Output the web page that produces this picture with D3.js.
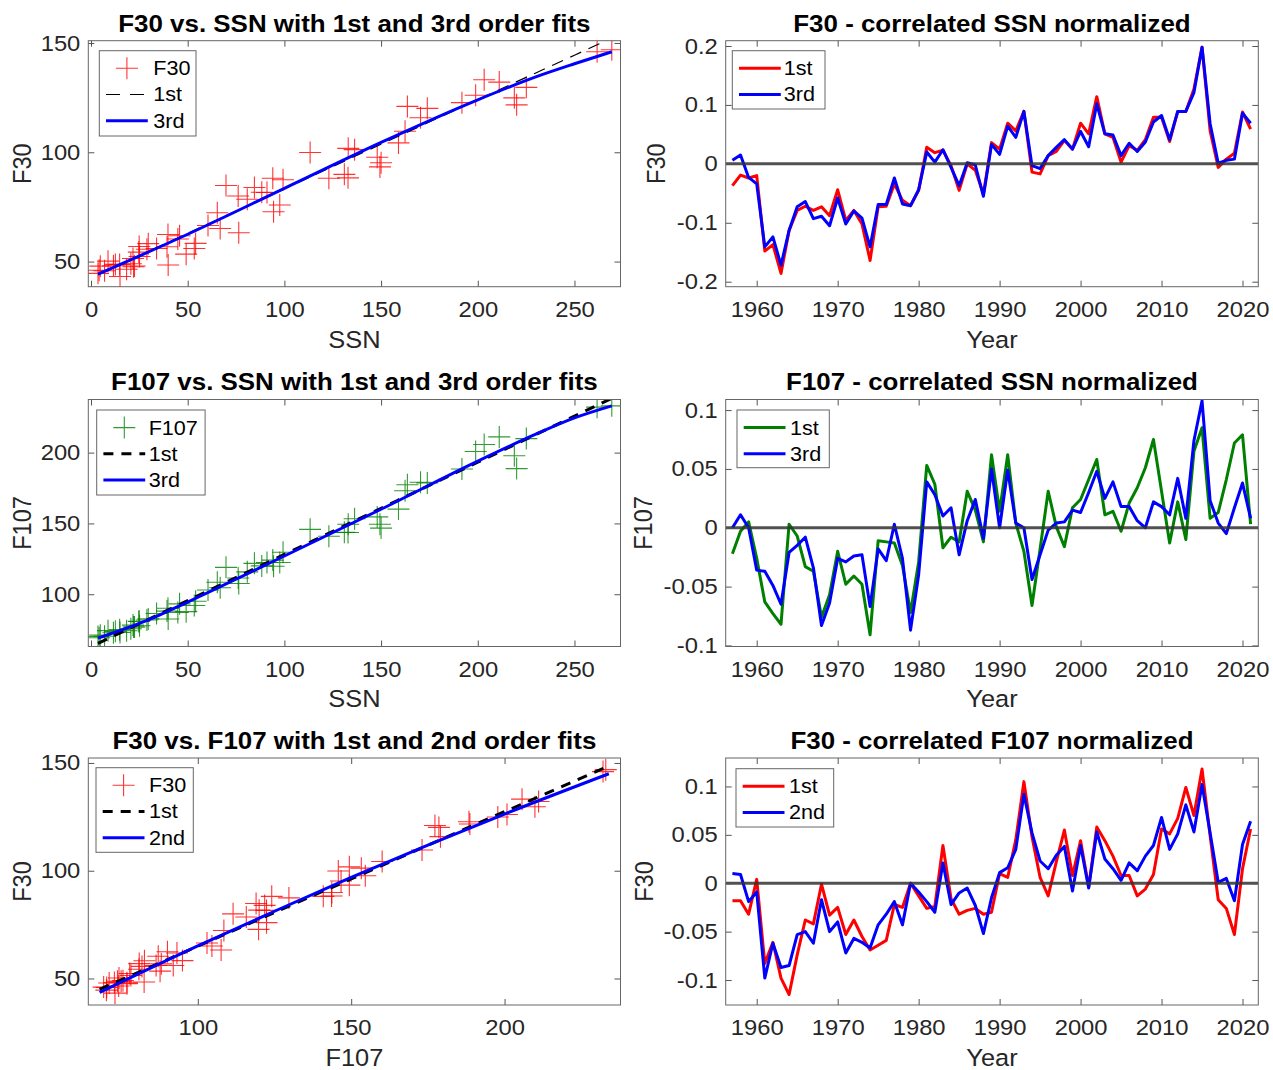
<!DOCTYPE html>
<html>
<head>
<meta charset="utf-8">
<script src="https://cdn.jsdelivr.net/npm/d3@7/dist/d3.min.js"></script>
<style>
  body { margin: 0; background: #fff; }
  svg text { font-family: "Liberation Sans", Arial, Helvetica, sans-serif; }
</style>
</head>
<body>
<script>
// yearly values, 1957 - 2021
const years = [1957,1958,1959,1960,1961,1962,1963,1964,1965,1966,
  1967,1968,1969,1970,1971,1972,1973,1974,1975,1976,
  1977,1978,1979,1980,1981,1982,1983,1984,1985,1986,
  1987,1988,1989,1990,1991,1992,1993,1994,1995,1996,
  1997,1998,1999,2000,2001,2002,2003,2004,2005,2006,
  2007,2008,2009,2010,2011,2012,2013,2014,2015,2016,
  2017,2018,2019,2020,2021];

const ssn = [269.3,261.7,225.1,159.0,76.4,53.4,39.9,15.0,22.0,66.8,
  132.9,150.0,149.4,148.0,94.4,97.6,54.1,49.2,22.5,18.4,
  39.3,131.0,220.1,218.9,198.9,162.4,91.0,60.5,20.6,14.8,
  33.9,123.0,211.1,191.8,203.3,133.0,76.1,44.9,25.1,11.6,
  28.9,88.3,136.3,173.9,170.4,163.6,99.3,65.3,45.8,24.7,
  12.6,4.2,4.8,24.9,80.8,84.5,94.0,113.3,69.8,39.8,
  21.7,7.0,3.6,8.8,29.6];

const f30 = [146.9,146.0,129.7,104.3,63.2,56.0,48.4,43.2,47.6,65.1,
  88.3,95.2,93.3,97.7,72.8,75.9,58.3,53.4,48.0,46.5,
  56.8,89.9,121.7,124.9,126.1,109.6,81.6,66.5,49.0,48.7,
  56.0,88.1,132.1,122.7,133.2,101.8,80.0,60.3,52.3,48.1,
  55.6,81.7,101.2,120.1,115.8,121.0,87.4,72.3,61.8,54.3,
  48.7,46.0,47.9,56.9,78.5,83.9,88.1,99.9,84.8,62.4,
  51.4,45.8,44.6,50.2,58.2];

const f107 = [233.0,232.1,209.9,160.1,107.6,92.0,82.5,73.0,76.9,104.6,
  143.6,146.7,149.4,154.6,119.8,122.4,95.0,87.7,76.9,74.2,
  88.1,143.7,188.7,197.8,200.8,173.1,122.4,103.0,75.6,75.0,
  86.4,140.9,211.1,188.4,205.7,149.4,111.5,87.1,77.8,72.8,
  81.8,120.0,153.3,178.6,179.1,177.3,129.7,108.5,93.2,80.8,
  73.8,69.3,71.1,80.9,115.8,121.8,124.1,145.8,119.0,90.1,
  78.2,70.3,70.2,74.3,82.6];

// normalized residuals
const resF30Ssn1 = [-0.037,-0.019,-0.024,-0.020,-0.148,-0.137,-0.186,-0.113,-0.079,-0.072,
  -0.079,-0.073,-0.088,-0.044,-0.096,-0.079,-0.102,-0.164,-0.073,-0.072,
  -0.034,-0.062,-0.071,-0.045,0.028,0.019,0.023,-0.003,-0.045,0.000,
  -0.011,-0.051,0.036,0.025,0.069,0.056,0.089,-0.014,-0.017,0.014,
  0.021,0.040,0.025,0.069,0.051,0.114,0.051,0.045,0.003,0.031,
  0.023,0.041,0.079,0.079,0.038,0.089,0.089,0.127,0.198,0.056,
  -0.006,0.008,0.018,0.088,0.059];
const resF30Ssn3 = [0.006,0.015,-0.023,-0.034,-0.141,-0.124,-0.172,-0.113,-0.073,-0.064,
  -0.093,-0.089,-0.105,-0.058,-0.102,-0.080,-0.092,-0.141,-0.069,-0.069,
  -0.024,-0.068,-0.071,-0.044,0.020,0.003,0.024,-0.006,-0.037,0.002,
  -0.002,-0.055,0.033,0.016,0.064,0.045,0.089,-0.003,-0.008,0.014,
  0.028,0.041,0.025,0.055,0.029,0.102,0.051,0.049,0.014,0.035,
  0.021,0.037,0.071,0.082,0.041,0.089,0.089,0.121,0.198,0.068,
  0.001,0.006,0.008,0.086,0.069];
const resF107Ssn1 = [-0.022,-0.003,0.005,-0.026,-0.063,-0.073,-0.082,0.003,-0.007,-0.033,
  -0.037,-0.076,-0.057,-0.020,-0.048,-0.041,-0.048,-0.091,-0.011,-0.012,
  -0.013,-0.032,-0.072,-0.029,0.053,0.037,-0.017,-0.008,-0.012,0.031,
  0.015,-0.012,0.062,0.014,0.062,0.004,-0.020,-0.066,-0.018,0.031,
  0.001,-0.016,0.017,0.024,0.041,0.058,0.011,0.014,-0.003,0.021,
  0.034,0.051,0.075,0.031,-0.013,0.022,-0.010,0.065,0.085,0.008,
  0.013,0.041,0.072,0.079,0.003];
const resF107Ssn3 = [0.000,0.011,0.000,-0.036,-0.037,-0.049,-0.065,-0.021,-0.015,-0.008,
  -0.034,-0.083,-0.064,-0.026,-0.029,-0.024,-0.023,-0.067,-0.018,-0.028,
  0.003,-0.026,-0.087,-0.040,0.039,0.028,0.010,0.017,-0.023,0.006,
  0.024,-0.009,0.050,0.000,0.049,0.004,0.000,-0.044,-0.023,-0.002,
  0.004,0.005,0.015,0.013,0.030,0.048,0.025,0.039,0.018,0.018,
  0.006,0.000,0.022,0.018,0.011,0.042,0.008,0.074,0.108,0.023,
  0.004,-0.005,0.017,0.038,0.008];
const resF30F107_1 = [-0.018,-0.018,-0.032,0.004,-0.083,-0.061,-0.098,-0.115,-0.074,-0.038,
  -0.042,-0.001,-0.033,-0.025,-0.053,-0.038,-0.055,-0.069,-0.064,-0.059,
  -0.022,-0.025,0.000,-0.013,-0.026,-0.024,0.039,-0.016,-0.032,-0.028,
  -0.026,-0.032,-0.030,0.010,0.006,0.045,0.105,0.048,0.006,-0.013,
  0.022,0.055,0.008,0.044,-0.004,0.058,0.044,0.028,0.008,0.008,
  -0.013,-0.006,0.009,0.056,0.051,0.067,0.099,0.070,0.118,0.049,
  -0.017,-0.026,-0.053,0.015,0.056];
const resF30F107_2 = [0.010,0.009,-0.019,-0.009,-0.098,-0.062,-0.087,-0.085,-0.053,-0.050,
  -0.062,-0.017,-0.050,-0.040,-0.072,-0.057,-0.061,-0.067,-0.043,-0.032,
  -0.019,-0.043,0.000,-0.009,-0.019,-0.030,0.021,-0.022,-0.010,-0.005,
  -0.023,-0.052,-0.015,0.011,0.016,0.035,0.092,0.052,0.023,0.015,
  0.029,0.038,-0.008,0.039,-0.005,0.053,0.025,0.015,0.003,0.021,
  0.013,0.028,0.039,0.068,0.035,0.051,0.081,0.053,0.102,0.052,
  0.001,0.005,-0.018,0.040,0.064];

// fit curves
const fitSsnF30 = [3.6, 50, 100, 150, 200, 230, 250, 269.3];
const f30FitSsn1 = [44.0, 62.9, 83.3, 103.7, 124.1, 136.3, 144.4, 152.3];
const f30FitSsn3 = [44.2, 62.5, 83.5, 104.5, 124.0, 134.5, 140.5, 146.0];
const fitSsnF107 = [3.6, 30, 50, 100, 150, 200, 230, 250, 269.3];
const f107FitSsn1 = [65.3, 82.5, 95.5, 128.1, 160.7, 193.2, 212.7, 225.8, 238.3];
const f107FitSsn3 = [69.0, 82.0, 94.5, 127.0, 160.0, 194.0, 213.0, 224.5, 233.0];
const fitF107 = [68, 100, 125, 150, 175, 200, 234];
const f30FitF107_1 = [45.0, 65.0, 80.6, 96.2, 111.8, 127.4, 148.6];
const f30FitF107_2 = [43.5, 65.1, 81.2, 96.9, 111.9, 126.3, 145.0];

// tick values
const ssnTicks = [0, 50, 100, 150, 200, 250];
const f30Ticks = [50, 100, 150];
const f107Ticks = [100, 150, 200];
const yearTicks = [1960, 1970, 1980, 1990, 2000, 2010, 2020];
const resTicksA = [-0.2, -0.1, 0, 0.1, 0.2];
const resTicksB = [-0.1, -0.05, 0, 0.05, 0.1];

const w = 1273, h = 1070;
const SX = 1.08;           // text in the picture is a bit wide
const tickFont = 22, labelFont = 23.5, titleFont = 24, legendFont = 20;
const LEFT = [88.3, 620.5], RIGHT = [725.7, 1258.3];
const ROWS = [[40.7, 286.7], [399.5, 646.5], [758, 1005]];

const svg = d3.select("body").append("svg").attr("width", w).attr("height", h);

function widen(sel) {
  sel.each(function() {
    const t = d3.select(this);
    const x = +t.attr("x") || 0;
    t.attr("transform", `translate(${x},0) scale(${SX},1) translate(${-x},0)`);
  });
}

function panel(o) {
  const x = d3.scaleLinear().domain(o.xd).range(o.xr);
  const y = d3.scaleLinear().domain(o.yd).range([o.yr[1], o.yr[0]]);
  const g = svg.append("g");

  g.append("clipPath").attr("id", "clip" + o.id)
    .append("rect")
    .attr("x", o.xr[0]).attr("y", o.yr[0])
    .attr("width", o.xr[1] - o.xr[0]).attr("height", o.yr[1] - o.yr[0]);
  const plot = g.append("g").attr("clip-path", `url(#clip${o.id})`);

  // ticks inside, MATLAB style, on all four sides
  const fmt = d => String(d);
  const axes = [
    [d3.axisBottom(x).tickValues(o.xt).tickFormat(fmt).tickPadding(14.5), `translate(0,${o.yr[1]})`, true],
    [d3.axisTop(x).tickValues(o.xt).tickFormat(""), `translate(0,${o.yr[0]})`, false],
    [d3.axisLeft(y).tickValues(o.yt).tickFormat(fmt).tickPadding(8), `translate(${o.xr[0]},0)`, true],
    [d3.axisRight(y).tickValues(o.yt).tickFormat(""), `translate(${o.xr[1]},0)`, false]
  ];
  axes.forEach(([ax, tr, lab]) => {
    const a = g.append("g").attr("transform", tr)
      .call(ax.tickSizeInner(-6).tickSizeOuter(0));
    a.select(".domain").remove();
    a.selectAll("line").attr("stroke", "#555");
    a.selectAll("text")
      .attr("font-size", tickFont)
      .attr("fill", "#262626")
      .style("font-family", '"Liberation Sans", Arial, sans-serif');
    if (lab) widen(a.selectAll("text"));
  });

  // box
  g.append("rect")
    .attr("x", o.xr[0]).attr("y", o.yr[0])
    .attr("width", o.xr[1] - o.xr[0]).attr("height", o.yr[1] - o.yr[0])
    .attr("fill", "none").attr("stroke", "#666").attr("stroke-width", 1);

  const cx = (o.xr[0] + o.xr[1]) / 2;
  g.append("text")
    .attr("x", cx).attr("y", o.yr[0] - 9)
    .attr("text-anchor", "middle")
    .attr("font-size", titleFont).attr("font-weight", "bold")
    .text(o.title)
    .call(widen);

  g.append("text")
    .attr("x", cx).attr("y", o.yr[1] + 61)
    .attr("text-anchor", "middle")
    .attr("font-size", labelFont).attr("fill", "#262626")
    .text(o.xl)
    .call(widen);

  g.append("text")
    .attr("transform", `translate(${o.ylx},${(o.yr[0] + o.yr[1]) / 2}) scale(${SX},1) rotate(-90)`)
    .attr("text-anchor", "middle")
    .attr("font-size", labelFont).attr("fill", "#262626")
    .text(o.yl);

  return { x, y, g, plot };
}

function plusMarks(p, xs, ys, color) {
  p.plot.selectAll(null)
    .data(xs.map((v, i) => [v, ys[i]]))
    .join("path")
    .attr("d", d => `M${p.x(d[0]) - 11},${p.y(d[1])}h22M${p.x(d[0])},${p.y(d[1]) - 11}v22`)
    .attr("stroke", color).attr("stroke-width", 1.1).attr("stroke-opacity", 0.8)
    .attr("fill", "none");
}

function curve(p, xs, ys, color, width, dash, smooth) {
  const line = d3.line().x(d => p.x(d[0])).y(d => p.y(d[1]));
  if (smooth) line.curve(d3.curveMonotoneX);
  p.plot.append("path")
    .datum(xs.map((v, i) => [v, ys[i]]))
    .attr("d", line)
    .attr("fill", "none").attr("stroke", color).attr("stroke-width", width)
    .attr("stroke-dasharray", dash || null)
    .attr("stroke-linejoin", "round");
}

function zeroLine(p) {
  p.plot.append("line")
    .attr("x1", p.x.range()[0]).attr("x2", p.x.range()[1])
    .attr("y1", p.y(0)).attr("y2", p.y(0))
    .attr("stroke", "#333").attr("stroke-opacity", 0.85).attr("stroke-width", 3);
}

function legend(p, lx, ly, lw, lh, items, textDx) {
  const g = p.g.append("g");
  g.append("rect").attr("x", lx).attr("y", ly).attr("width", lw).attr("height", lh)
    .attr("fill", "#fff").attr("stroke", "#666").attr("stroke-width", 1);
  items.forEach((it, i) => {
    const ry = ly + 17.6 + i * 26.2;
    const x0 = lx + 6.7, x1 = lx + 48.5;
    if (it.type === "plus") {
      const mx = (x0 + x1) / 2;
      g.append("path").attr("d", `M${mx - 11},${ry}h22M${mx},${ry - 11}v22`)
        .attr("stroke", it.color).attr("stroke-width", 1.1).attr("stroke-opacity", 0.8);
    } else {
      g.append("line").attr("x1", x0).attr("x2", x1).attr("y1", ry).attr("y2", ry)
        .attr("stroke", it.color).attr("stroke-width", it.width)
        .attr("stroke-dasharray", it.dash || null);
    }
    g.append("text").attr("x", lx + textDx).attr("y", ry).attr("dy", "0.35em")
      .attr("font-size", legendFont).attr("fill", "#000")
      .text(it.label)
      .call(widen);
  });
}

// ---- top left: F30 vs SSN
const p1 = panel({ id: 1, xr: LEFT, yr: ROWS[0], xd: [-1.4, 273.8], yd: [38.5, 151.05],
  xt: ssnTicks, yt: f30Ticks, title: "F30 vs. SSN with 1st and 3rd order fits",
  xl: "SSN", yl: "F30", ylx: 30.7 });
plusMarks(p1, ssn, f30, "#ff0000");
curve(p1, fitSsnF30, f30FitSsn1, "#000", 1.2, "12,8", false);
curve(p1, fitSsnF30, f30FitSsn3, "#0000ff", 3, null, true);
legend(p1, 99.3, 50.7, 96.7, 85.3, [
  { type: "plus", color: "#ff0000", label: "F30" },
  { type: "line", color: "#000", width: 1.2, dash: "14,10", label: "1st" },
  { type: "line", color: "#0000ff", width: 3, label: "3rd" }
], 54);

// ---- top right: F30 residuals vs SSN fits
const p2 = panel({ id: 2, xr: RIGHT, yr: ROWS[0], xd: [1956.17, 2021.95], yd: [-0.2085, 0.209],
  xt: yearTicks, yt: resTicksA, title: "F30 - correlated SSN normalized",
  xl: "Year", yl: "F30", ylx: 665 });
curve(p2, years, resF30Ssn1, "#ff0000", 3);
curve(p2, years, resF30Ssn3, "#0000ff", 3);
zeroLine(p2);
legend(p2, 732.3, 50.7, 92.7, 58.3, [
  { type: "line", color: "#ff0000", width: 3, label: "1st" },
  { type: "line", color: "#0000ff", width: 3, label: "3rd" }
], 51.5);

// ---- middle left: F107 vs SSN
const p3 = panel({ id: 3, xr: LEFT, yr: ROWS[1], xd: [-1.4, 273.8], yd: [63.1, 237.5],
  xt: ssnTicks, yt: f107Ticks, title: "F107 vs. SSN with 1st and 3rd order fits",
  xl: "SSN", yl: "F107", ylx: 30.5 });
plusMarks(p3, ssn, f107, "#008000");
curve(p3, fitSsnF107, f107FitSsn1, "#000", 3, "10,8", false);
curve(p3, fitSsnF107, f107FitSsn3, "#0000ff", 3, null, true);
legend(p3, 96.7, 410, 108.4, 85, [
  { type: "plus", color: "#008000", label: "F107" },
  { type: "line", color: "#000", width: 3, dash: "10,8", label: "1st" },
  { type: "line", color: "#0000ff", width: 3, label: "3rd" }
], 52);

// ---- middle right: F107 residuals
const p4 = panel({ id: 4, xr: RIGHT, yr: ROWS[1], xd: [1956.17, 2021.95], yd: [-0.1009, 0.109],
  xt: yearTicks, yt: resTicksB, title: "F107 - correlated SSN normalized",
  xl: "Year", yl: "F107", ylx: 652 });
curve(p4, years, resF107Ssn1, "#008000", 3);
curve(p4, years, resF107Ssn3, "#0000ff", 3);
zeroLine(p4);
legend(p4, 737, 410, 92.3, 57.7, [
  { type: "line", color: "#008000", width: 3, label: "1st" },
  { type: "line", color: "#0000ff", width: 3, label: "3rd" }
], 53);

// ---- bottom left: F30 vs F107
const p5 = panel({ id: 5, xr: LEFT, yr: ROWS[2], xd: [64.3, 237.8], yd: [37.7, 152.3],
  xt: f107Ticks, yt: f30Ticks, title: "F30 vs. F107 with 1st and 2nd order fits",
  xl: "F107", yl: "F30", ylx: 31.3 });
plusMarks(p5, f107, f30, "#ff0000");
curve(p5, fitF107, f30FitF107_1, "#000", 3, "10,8", false);
curve(p5, fitF107, f30FitF107_2, "#0000ff", 3, null, true);
legend(p5, 96, 767.7, 97.3, 84.6, [
  { type: "plus", color: "#ff0000", label: "F30" },
  { type: "line", color: "#000", width: 3, dash: "10,8", label: "1st" },
  { type: "line", color: "#0000ff", width: 3, label: "2nd" }
], 53);

// ---- bottom right: F30 residuals vs F107 fits
const p6 = panel({ id: 6, xr: RIGHT, yr: ROWS[2], xd: [1956.17, 2021.95], yd: [-0.1258, 0.1294],
  xt: yearTicks, yt: resTicksB, title: "F30 - correlated F107 normalized",
  xl: "Year", yl: "F30", ylx: 652.7 });
curve(p6, years, resF30F107_1, "#ff0000", 3);
curve(p6, years, resF30F107_2, "#0000ff", 3);
zeroLine(p6);
legend(p6, 736, 768.7, 97.7, 58.3, [
  { type: "line", color: "#ff0000", width: 3, label: "1st" },
  { type: "line", color: "#0000ff", width: 3, label: "2nd" }
], 53);
</script>
</body>
</html>
